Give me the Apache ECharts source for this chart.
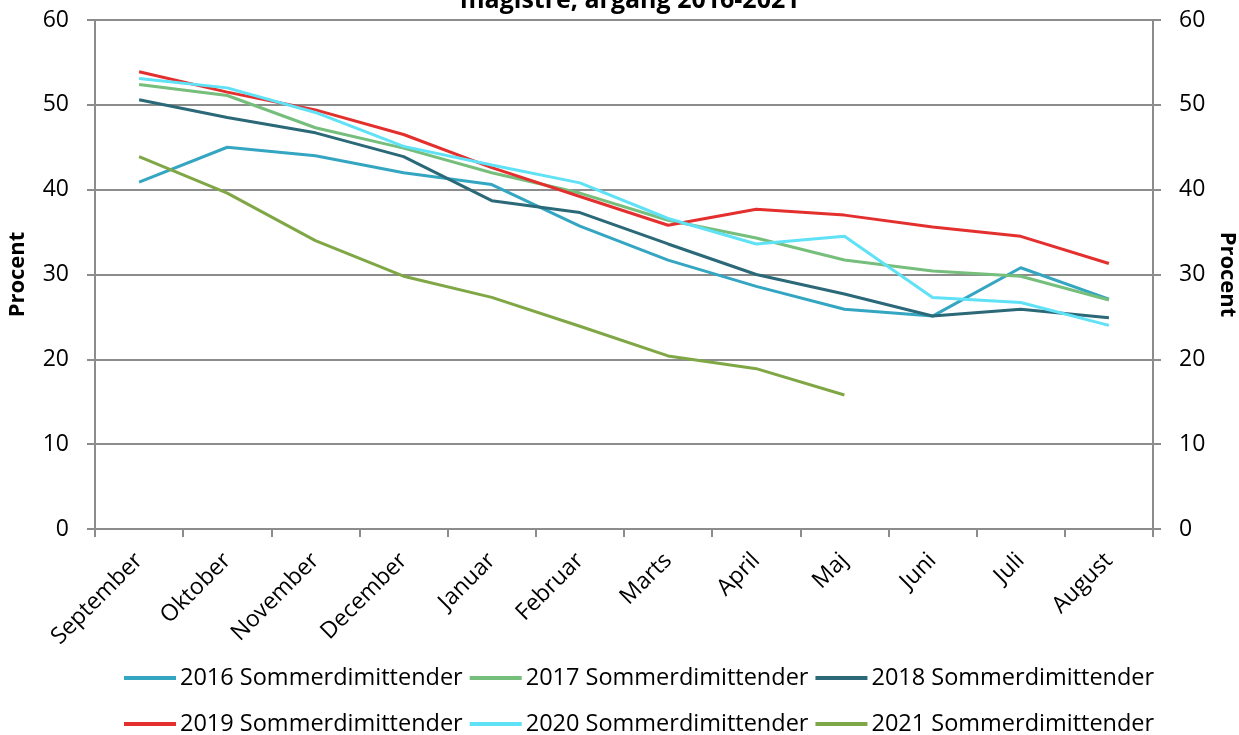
<!DOCTYPE html>
<html>
<head>
<meta charset="utf-8">
<script src="https://cdn.jsdelivr.net/npm/echarts@6/dist/echarts.min.js"></script>
<style>
    html, body { margin: 0; padding: 0; background: #fff; }
    #chart { width: 1239px; height: 735px; }
</style>
</head>
<body>
<div id="chart"></div>
<script>
    // data
    var months = ['September', 'Oktober', 'November', 'December', 'Januar', 'Februar',
        'Marts', 'April', 'Maj', 'Juni', 'Juli', 'August'];
    var yTicks = [0, 10, 20, 30, 40, 50, 60];

    var y2016 = [40.9, 45.0, 44.0, 42.0, 40.6, 35.7, 31.7, 28.6, 25.9, 25.1, 30.8, 27.1];
    var y2017 = [52.4, 51.1, 47.3, 44.9, 42.0, 39.6, 36.4, 34.3, 31.7, 30.4, 29.8, 27.0];
    var y2018 = [50.6, 48.5, 46.7, 43.9, 38.7, 37.3, 33.6, 30.0, 27.7, 25.1, 25.9, 24.9];
    var y2019 = [53.9, 51.5, 49.4, 46.5, 42.6, 39.2, 35.8, 37.7, 37.0, 35.6, 34.5, 31.3];
    var y2020 = [53.1, 52.0, 49.1, 45.1, 42.9, 40.8, 36.6, 33.6, 34.5, 27.3, 26.7, 24.0];
    var y2021 = [43.9, 39.6, 34.0, 29.8, 27.3, 23.9, 20.4, 18.9, 15.8];

    var names = ['2016 Sommerdimittender', '2017 Sommerdimittender', '2018 Sommerdimittender',
        '2019 Sommerdimittender', '2020 Sommerdimittender', '2021 Sommerdimittender'];
    var colors = ['#34a6c2', '#76be7c', '#2c6978', '#e3302e', '#5fe1f6', '#80a746'];
    var values = [y2016, y2017, y2018, y2019, y2020, y2021];

    var font = '"Open Sans", sans-serif';
    var gridColor = '#8c8c8c';

    var makeAxis = function(side) {
        return {
            type: 'value',
            position: side,
            min: yTicks[0],
            max: yTicks[yTicks.length - 1],
            interval: 10,
            name: 'Procent',
            nameLocation: 'middle',
            nameGap: side === 'left' ? 66 : 63,
            nameRotate: side === 'left' ? 90 : -90,
            nameTextStyle: { fontFamily: font, fontSize: 22, fontWeight: 'bold', color: '#000' },
            axisLine: { show: true, lineStyle: { color: gridColor, width: 2 } },
            axisTick: { show: true, length: 8, lineStyle: { color: gridColor, width: 2 } },
            axisLabel: { fontFamily: font, fontSize: 23, color: '#000', margin: 26 },
            splitLine: { show: side === 'left', lineStyle: { color: gridColor, width: 2 } }
        };
    };

    var series = [];
    for (var i = 0; i < names.length; i++) {
        series.push({
            name: names[i],
            type: 'line',
            yAxisIndex: 0,
            data: values[i],
            symbol: 'none',
            color: colors[i],
            lineStyle: { width: 3, color: colors[i] },
            animation: false
        });
    }
    // empty series so the right axis gets drawn
    series.push({ type: 'line', yAxisIndex: 1, data: [], silent: true });

    var legendBase = function(list, top) {
        return {
            data: list,
            top: top,
            left: 119,
            itemWidth: 52,
            itemHeight: 4,
            itemGap: 7,
            icon: 'rect',
            textStyle: { fontFamily: font, fontSize: 23.5, color: '#000', padding: [0, 0, 0, -1] }
        };
    };

    var chart = echarts.init(document.getElementById('chart'));
    chart.setOption({
        animation: false,
        title: {
            text: 'magistre, årgang 2016-2021',
            left: 455,
            top: -17,
            textStyle: { fontFamily: font, fontSize: 25, fontWeight: 'bold', color: '#000' }
        },
        legend: [
            legendBase(names.slice(0, 3), 661),
            legendBase(names.slice(3), 707)
        ],
        grid: { left: 95, right: 86, top: 20, bottom: 206, containLabel: false, outerBoundsMode: 'none' },
        xAxis: {
            type: 'category',
            data: months,
            boundaryGap: true,
            axisLine: { lineStyle: { color: gridColor, width: 2 } },
            axisTick: { show: true, length: 8, alignWithLabel: false, lineStyle: { color: gridColor, width: 2 } },
            axisLabel: { rotate: 45, fontFamily: font, fontSize: 23, color: '#000', margin: 28, interval: 0 }
        },
        yAxis: [makeAxis('left'), makeAxis('right')],
        series: series
    });
</script>
</body>
</html>
